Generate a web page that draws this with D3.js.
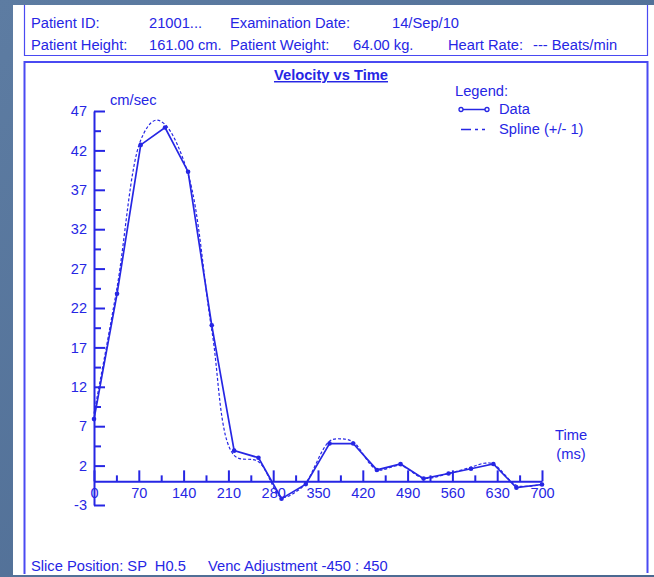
<!DOCTYPE html>
<html>
<head>
<meta charset="utf-8">
<script src="https://cdn.jsdelivr.net/npm/d3@7"></script>
<style>
  body { margin: 0; background: #52729a; }
  svg { display: block; }
  text { font-family: "Liberation Sans", Arial, sans-serif; fill: #2626e4; font-size: 14.7px; }
  .axis path, .axis line { stroke: #2626e4; }
  .axis text { font-family: "Liberation Sans", Arial, sans-serif; font-size: 14.5px; fill: #2626e4; }
</style>
</head>
<body>
<div id="chart"></div>
<script>
// data
var timeMs = [0, 36, 73, 111, 147, 184, 219, 257, 293, 331, 368, 405, 442, 479, 515, 554, 589, 624, 660, 700];
var velocity = [7.9, 23.8, 42.7, 44.9, 39.3, 19.8, 3.9, 3.0, -2.2, -0.35, 4.8, 4.8, 1.45, 2.2, 0.35, 1.0, 1.6, 2.2, -0.8, -0.4];

var splineTime = [0, 36, 73, 95, 111, 147, 184, 219, 257, 293, 316, 331, 368, 386, 405, 442, 479, 515, 554, 589, 610, 624, 660, 680, 700];
var splineVel = [8.6, 24.6, 43.3, 45.8, 45.3, 39.0, 19.2, 3.3, 2.5, -2.0, -1.3, -0.2, 5.1, 5.4, 5.0, 1.5, 2.0, 0.4, 1.0, 1.8, 2.3, 2.2, -0.5, -0.6, -0.4];

var xTicks = [0, 70, 140, 210, 280, 350, 420, 490, 560, 630, 700];
var xMinor = [35, 105, 175, 245, 315, 385, 455, 525, 595, 665];
var yTicks = [-3, 2, 7, 12, 17, 22, 27, 32, 37, 42, 47];
var yMinor = [4.5, 9.5, 14.5, 19.5, 24.5, 29.5, 34.5, 39.5, 44.5];

var headerRow1 = [["Patient ID:", 31], ["21001...", 149], ["Examination Date:", 230], ["14/Sep/10", 392]];
var headerRow2 = [["Patient Height:", 31], ["161.00 cm.", 149], ["Patient Weight:", 230], ["64.00 kg.", 353], ["Heart Rate:", 448], ["--- Beats/min", 533]];
var footer = [["Slice Position: SP  H0.5", 31], ["Venc Adjustment -450 : 450", 208]];

var W = 654, H = 577;
var blue = "#2626e4", border = "#4a4af2";

var svg = d3.select('#chart')
  .append('svg')
    .attr('width', W)
    .attr('height', H);

// slide background
var defs = svg.append('defs');
var grad = defs.append('linearGradient').attr('id', 'bg').attr('x1', 0).attr('y1', 0).attr('x2', 1).attr('y2', 1);
grad.append('stop').attr('offset', '0%').attr('stop-color', '#5d7ca2');
grad.append('stop').attr('offset', '100%').attr('stop-color', '#4a6890');
svg.append('rect').attr('width', W).attr('height', H).attr('fill', 'url(#bg)');

// white panel
svg.append('rect').attr('x', 13).attr('y', 5).attr('width', W - 13).attr('height', 570).attr('fill', '#fff');

// header box
svg.append('path')
  .attr('d', 'M24.5,5V55.5H647.5V5')
  .attr('fill', 'none').attr('stroke', border).attr('stroke-width', 1.2);

// chart box
svg.append('path')
  .attr('d', 'M24.5,574V62H647.5V573')
  .attr('fill', 'none').attr('stroke', border).attr('stroke-width', 2);

svg.selectAll('.h1').data(headerRow1).enter().append('text')
  .attr('x', function(d) { return d[1]; }).attr('y', 28)
  .text(function(d) { return d[0]; });
svg.selectAll('.h2').data(headerRow2).enter().append('text')
  .attr('x', function(d) { return d[1]; }).attr('y', 50)
  .text(function(d) { return d[0]; });

// title
svg.append('text')
  .attr('x', 331).attr('y', 80)
  .style('text-anchor', 'middle')
  .style('font-weight', 'bold')
  .style('text-decoration', 'underline')
  .text('Velocity vs Time');

var x = d3.scaleLinear().domain([0, 700]).range([94, 542]);
var y = d3.scaleLinear().domain([-3, 47]).range([505, 111]);

// minor ticks
svg.append('g').attr('class', 'axis')
  .attr('transform', 'translate(0,' + y(0) + ')')
  .call(d3.axisBottom(x).tickValues(xMinor).tickSize(-6).tickSizeOuter(0).tickFormat(''))
  .call(function(g) { g.select('.domain').remove(); })
  .selectAll('line').attr('stroke-width', 2);
svg.append('g').attr('class', 'axis')
  .attr('transform', 'translate(' + x(0) + ',0)')
  .call(d3.axisLeft(y).tickValues(yMinor).tickSize(-7).tickSizeOuter(0).tickFormat(''))
  .call(function(g) { g.select('.domain').remove(); })
  .selectAll('line').attr('stroke-width', 2);

// x axis
var xAxis = svg.append('g').attr('class', 'axis')
  .attr('transform', 'translate(0,' + y(0) + ')')
  .call(d3.axisBottom(x).tickValues(xTicks).tickSize(-11).tickSizeOuter(0).tickPadding(6).tickFormat(String));
xAxis.select('.domain').attr('stroke-width', 2);
xAxis.selectAll('line').attr('stroke-width', 2);

// y axis
var yAxis = svg.append('g').attr('class', 'axis')
  .attr('transform', 'translate(' + x(0) + ',0)')
  .call(d3.axisLeft(y).tickValues(yTicks).tickSize(-11).tickSizeOuter(0).tickPadding(7).tickFormat(String));
yAxis.select('.domain').attr('stroke-width', 2);
yAxis.selectAll('line').attr('stroke-width', 2);

svg.append('text').attr('x', 110).attr('y', 105).text('cm/sec');
svg.append('text').attr('x', 571).attr('y', 440).style('text-anchor', 'middle').text('Time');
svg.append('text').attr('x', 571).attr('y', 459).style('text-anchor', 'middle').text('(ms)');

// spline
var spline = splineTime.map(function(t, i) { return [t, splineVel[i]]; });
svg.append('path')
  .datum(spline)
  .attr('fill', 'none')
  .attr('stroke', blue)
  .attr('stroke-width', 1.2)
  .attr('stroke-dasharray', '3,2')
  .attr('d', d3.line()
    .x(function(d) { return x(d[0]); })
    .y(function(d) { return y(d[1]); })
    .curve(d3.curveCatmullRom.alpha(0.5)));

// data
var pts = timeMs.map(function(t, i) { return [t, velocity[i]]; });
svg.append('path')
  .datum(pts)
  .attr('fill', 'none')
  .attr('stroke', blue)
  .attr('stroke-width', 1.7)
  .attr('d', d3.line()
    .x(function(d) { return x(d[0]); })
    .y(function(d) { return y(d[1]); }));
svg.selectAll('.pt').data(pts).enter().append('circle')
  .attr('cx', function(d) { return x(d[0]); })
  .attr('cy', function(d) { return y(d[1]); })
  .attr('r', 2.3)
  .attr('fill', blue);

// legend
svg.append('text').attr('x', 455).attr('y', 96).text('Legend:');
svg.append('line').attr('x1', 461).attr('x2', 487).attr('y1', 109.5).attr('y2', 109.5)
  .attr('stroke', blue).attr('stroke-width', 1.5);
svg.selectAll('.lc').data([461, 487]).enter().append('circle')
  .attr('cx', function(d) { return d; }).attr('cy', 109.5).attr('r', 2)
  .attr('fill', '#fff').attr('stroke', blue).attr('stroke-width', 1.3);
svg.append('text').attr('x', 499).attr('y', 114).text('Data');
svg.append('line').attr('x1', 461).attr('x2', 487).attr('y1', 129.5).attr('y2', 129.5)
  .attr('stroke', blue).attr('stroke-width', 1.3).attr('stroke-dasharray', '10,4,3,4,3');
svg.append('text').attr('x', 499).attr('y', 134).text('Spline (+/- 1)');

// footer
svg.selectAll('.ft').data(footer).enter().append('text')
  .attr('x', function(d) { return d[1]; }).attr('y', 571)
  .attr('xml:space', 'preserve').style('white-space', 'pre')
  .text(function(d) { return d[0]; });
</script>
</body>
</html>
